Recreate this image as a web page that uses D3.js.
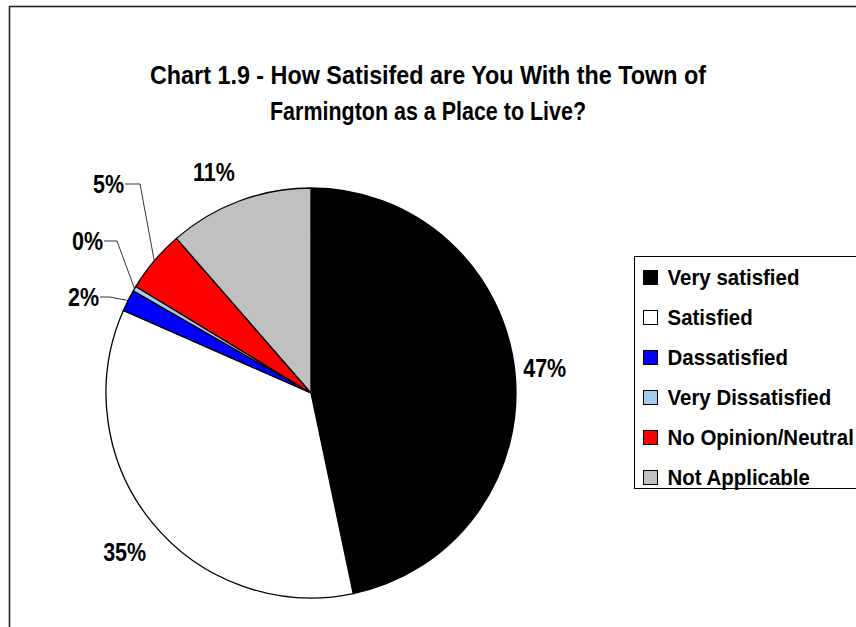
<!DOCTYPE html>
<html>
<head>
<meta charset="utf-8">
<script src="https://cdn.jsdelivr.net/npm/d3@7"></script>
<style>
  html, body { margin: 0; padding: 0; background: #fff; }
  svg { display: block; }
  text { font-family: "Liberation Sans", Arial, sans-serif; font-weight: bold; fill: #000; }
</style>
</head>
<body>
<svg id="chart" width="856" height="627"></svg>
<script>
// Survey responses, share of respondents (%)
const categories = ["Very satisfied", "Satisfied", "Dassatisfied", "Very Dissatisfied", "No Opinion/Neutral", "Not Applicable"];
const values = [46.7, 34.9, 1.7, 0.4, 4.9, 11.4];
const colors = ["#000000", "#FFFFFF", "#0000FF", "#A6CAF0", "#FF0000", "#C0C0C0"];
const titleLines = ["Chart 1.9 - How Satisifed are You With the Town of", "Farmington as a Place to Live?"];

const svg = d3.select("#chart");
const W = 856, H = 627;

// narrow bold text: draw at size, then squeeze horizontally about the anchor
function narrowText(sel, x, y, size, sx, anchor) {
  return sel.append("text")
    .attr("transform", `translate(${x},${y}) scale(${sx},1)`)
    .attr("text-anchor", anchor || "start")
    .attr("dominant-baseline", "central")
    .attr("font-size", size);
}

// outer chart frame (runs off the right and bottom edges)
svg.append("rect")
  .attr("x", 9.5).attr("y", 6.5)
  .attr("width", W).attr("height", H)
  .attr("fill", "#fff").attr("stroke", "#222").attr("stroke-width", 1.6);

// title, each line fitted to its set width
const titleWidths = [556, 316];
titleLines.forEach((t, i) => {
  svg.append("text")
    .attr("x", 428 - titleWidths[i] / 2).attr("y", 75 + i * 36)
    .attr("dominant-baseline", "central")
    .attr("font-size", 25)
    .attr("textLength", titleWidths[i])
    .attr("lengthAdjust", "spacingAndGlyphs")
    .text(t);
});

// pie
const cx = 311, cy = 393, R = 205;
const pie = d3.pie().sort(null).value(d => d.v);
const data = categories.map((c, i) => ({ c, v: values[i], color: colors[i] }));
const arcs = pie(data);
const arc = d3.arc().innerRadius(0).outerRadius(R);

const g = svg.append("g").attr("transform", `translate(${cx},${cy})`);
g.selectAll("path").data(arcs).join("path")
  .attr("d", arc)
  .attr("fill", d => d.data.color)
  .attr("stroke", "#000")
  .attr("stroke-width", 1.3)
  .attr("stroke-linejoin", "round");

const fmt = v => Math.round(v) + "%";

// labels: large slices sit just outside the rim, small ones get leader lines
const labelR = 240;
const nudge = { 0: [-5, 0], 1: [0, 8], 5: [-13, 4] };
const leaders = {
  2: { elbow: [-201, -96], run: 10 },
  3: { elbow: [-194, -152], run: 13 },
  4: { elbow: [-171, -209], run: 15 }
};
const edgeArc = d3.arc().innerRadius(R).outerRadius(R);
const labelSize = 25, labelSx = 0.86;

arcs.forEach((a, i) => {
  const mid = (a.startAngle + a.endAngle) / 2;
  const lead = leaders[i];
  if (!lead) {
    const [nx, ny] = nudge[i] || [0, 0];
    const x = labelR * Math.sin(mid) + nx, y = -labelR * Math.cos(mid) + ny;
    narrowText(g, x, y, labelSize, labelSx, "middle").text(fmt(a.data.v));
  } else {
    const p0 = edgeArc.centroid(a);
    const [ex, ey] = lead.elbow;
    g.append("polyline")
      .attr("points", [[p0[0], p0[1]], [ex, ey], [ex - lead.run, ey]].map(p => p.join(",")).join(" "))
      .attr("fill", "none").attr("stroke", "#000").attr("stroke-width", 0.8);
    narrowText(g, ex - lead.run - 1, ey, labelSize, labelSx, "end").text(fmt(a.data.v));
  }
});

// legend
const lg = svg.append("g").attr("transform", "translate(634.5,256.5)");
lg.append("rect")
  .attr("width", 260).attr("height", 232)
  .attr("fill", "#fff").attr("stroke", "#000").attr("stroke-width", 1);
const rows = lg.selectAll("g.row").data(data).join("g")
  .attr("class", "row")
  .attr("transform", (d, i) => `translate(9,${21 + i * 40})`);
rows.append("rect")
  .attr("x", 0).attr("y", -7).attr("width", 14).attr("height", 14)
  .attr("fill", d => d.color).attr("stroke", "#000").attr("stroke-width", 1);
rows.each(function (d) {
  narrowText(d3.select(this), 24, 0, 22, 0.93, "start").text(d.c);
});
</script>
</body>
</html>
